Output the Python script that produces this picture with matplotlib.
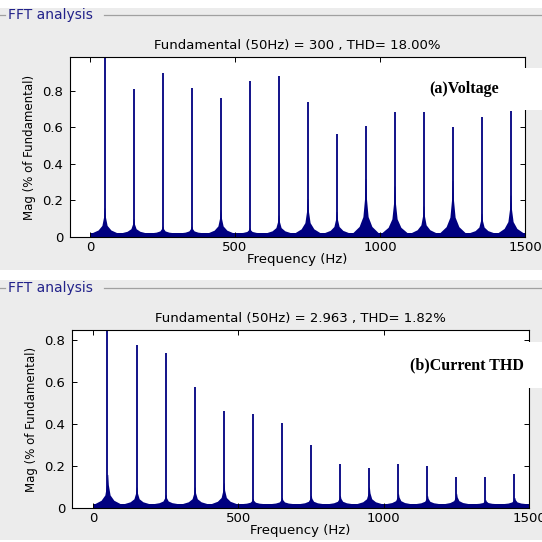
import numpy as np
import matplotlib.pyplot as plt
from matplotlib.patches import Rectangle
from matplotlib.lines import Line2D

# данные гармоник
harm_freq = [50, 150, 250, 350, 450, 550, 650, 750, 850, 950, 1050, 1150, 1250, 1350, 1450]

# (a) напряжение
volt_peak = [1.0, 0.81, 0.90, 0.815, 0.76, 0.855, 0.88, 0.74, 0.565, 0.61, 0.685, 0.685, 0.60, 0.655, 0.69]
volt_skirt = [0.16, 0.10, 0.06, 0.06, 0.15, 0.05, 0.12, 0.21, 0.14, 0.32, 0.28, 0.17, 0.31, 0.13, 0.23]
volt_floor = 0.022

# (b) ток
curr_peak = [1.0, 0.775, 0.74, 0.575, 0.46, 0.45, 0.405, 0.30, 0.21, 0.19, 0.21, 0.20, 0.15, 0.15, 0.16]
curr_skirt = [0.16, 0.10, 0.065, 0.10, 0.12, 0.045, 0.05, 0.06, 0.06, 0.10, 0.07, 0.06, 0.07, 0.04, 0.05]
curr_floor = 0.02

titles = ['Fundamental (50Hz) = 300 , THD= 18.00%',
          'Fundamental (50Hz) = 2.963 , THD= 1.82%']
labels = ['(a)Voltage', '(b)Current THD']

W = 542.0
NAVY = '#000080'
GRAY = '#ececec'


def fx(x):
    return x / W


def fy(y):
    return 1 - y / W


fig = plt.figure(figsize=(5.42, 5.42), dpi=100, facecolor='white')

# серые панели
fig.patches.append(Rectangle((0, fy(270)), 1, (270 - 8) / W, transform=fig.transFigure,
                             facecolor=GRAY, edgecolor='none', zorder=-2))
fig.patches.append(Rectangle((0, fy(540)), 1, (540 - 280) / W, transform=fig.transFigure,
                             facecolor=GRAY, edgecolor='none', zorder=-2))


def draw_panel(rect, ylim_top, xlim_left, peaks, skirts, floor, title, frame_y, label, box):
    ax = fig.add_axes(rect)
    ax.set_facecolor('white')
    ax.fill_between([0, 1500], [0, 0], [floor, floor], color=NAVY, lw=0)
    offs = np.array([-45, -22, -9, -3, -1, 1, 3, 9, 22, 45])
    shape = np.array([0, 0.12, 0.3, 0.65, 1, 1, 0.65, 0.3, 0.12, 0])
    for f, s in zip(harm_freq, skirts):
        ax.fill_between(f + offs, 0, floor + (s - floor) * shape, color=NAVY, lw=0)
    ax.vlines(harm_freq, 0, peaks, color=NAVY, lw=1.3)
    ax.set_xlim(xlim_left, 1500)
    ax.set_ylim(0, ylim_top)
    ax.set_xticks([0, 500, 1000, 1500])
    ax.set_yticks([0, 0.2, 0.4, 0.6, 0.8])
    ax.set_yticklabels(['0', '0.2', '0.4', '0.6', '0.8'])
    ax.tick_params(direction='in', top=True, right=True, length=3.5, width=0.7,
                   labelsize=9.5)
    ax.tick_params(axis='x', pad=3)
    ax.tick_params(axis='y', pad=5)
    for sp in ax.spines.values():
        sp.set_linewidth(0.8)
    ax.set_title(title, fontsize=9.5, pad=6)
    ax.set_xlabel('Frequency (Hz)', fontsize=9.5, labelpad=-1)
    ax.set_ylabel('Mag (% of Fundamental)', fontsize=8.5, labelpad=4)

    # рамка FFT analysis
    fig.add_artist(Line2D([0, fx(5)], [fy(frame_y)] * 2, transform=fig.transFigure,
                          color='#a0a0a0', lw=0.9))
    fig.add_artist(Line2D([fx(104), 1], [fy(frame_y)] * 2, transform=fig.transFigure,
                          color='#a0a0a0', lw=0.9))
    fig.text(fx(8), fy(frame_y), 'FFT analysis', color='#22228a', fontsize=10,
             va='center', ha='left')

    # белая плашка с подписью
    bx0, by0, by1 = box
    fig.patches.append(Rectangle((fx(bx0), fy(by1)), 1 - fx(bx0), (by1 - by0) / W,
                                 transform=fig.transFigure, facecolor='white',
                                 edgecolor='none', zorder=2))
    fig.text(fx(label[1]), fy((by0 + by1) / 2), label[0], family='Liberation Serif',
             fontweight='bold', fontsize=11.5, va='center', ha='center', zorder=3)
    return ax


draw_panel([fx(70), fy(237), (525 - 70) / W, 180 / W], 0.986, -69,
           volt_peak, volt_skirt, volt_floor, titles[0], 15,
           (labels[0], 464), (415, 68, 110))
draw_panel([fx(72), fy(508), (529 - 72) / W, 178 / W], 0.848, -72,
           curr_peak, curr_skirt, curr_floor, titles[1], 288,
           (labels[1], 467), (395, 342, 388))

plt.savefig('out.png', dpi=100, facecolor='white')
